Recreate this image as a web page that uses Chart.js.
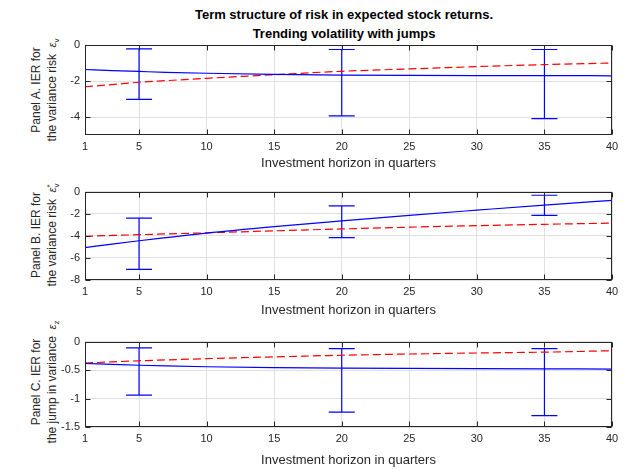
<!DOCTYPE html>
<html><head><meta charset="utf-8">
<script src="https://cdn.jsdelivr.net/npm/chart.js@4.4.1/dist/chart.umd.min.js"></script>
<style>
body{margin:0;background:#fff;width:634px;height:476px;overflow:hidden;position:relative;font-family:"Liberation Sans",Arial,sans-serif;color:#262626}
canvas{position:absolute;left:0}
.title{position:absolute;left:80px;width:528px;top:6px;text-align:center;font-weight:bold;font-size:13px;line-height:18.5px;color:#000}
.ylab{position:absolute;width:240px;height:32px;font-size:12px;line-height:16px;text-align:center;transform:rotate(-90deg);white-space:nowrap;color:#262626}
.eps{font-size:11px;font-style:italic}
.ss{display:inline-block;vertical-align:middle;line-height:7px;font-size:8px;text-align:left}
</style>
</head><body>
<div class="title">Term structure of risk in expected stock returns.<br>Trending volatility with jumps</div>
<div class="ylab" style="left:-76px;top:74px">Panel A. IER for<br>the variance risk &nbsp;<span class="eps">ε</span><sub style="font-size:8px">v</sub></div>
<div class="ylab" style="left:-76px;top:219px">Panel B. IER for<br>the variance risk &nbsp;<span class="eps">ε</span><span class="ss">*<br>v</span></div>
<div class="ylab" style="left:-76px;top:366px">Panel C. IER for<br>the jump in variance &nbsp;<span class="eps">ε</span><sub style="font-size:8px">z</sub></div>
<canvas id="cA" width="634" height="180" style="top:0px"></canvas>
<canvas id="cB" width="634" height="150" style="top:180px"></canvas>
<canvas id="cC" width="634" height="146" style="top:330px"></canvas>
<script>
// ---- data ----
const horizons = [1, 3, 5, 7, 10, 15, 20, 25, 30, 35, 40];
const xTicks = [1, 5, 10, 15, 20, 25, 30, 35, 40];
const errX = [5, 20, 35];

const modelA = [-1.36, -1.42, -1.47, -1.52, -1.57, -1.63, -1.67, -1.69, -1.70, -1.70, -1.71];
const dataA  = [-2.32, -2.20, -2.07, -1.98, -1.85, -1.65, -1.46, -1.33, -1.20, -1.09, -1.00];
const errLowA  = [-3.02, -3.94, -4.09];
const errHighA = [-0.21, -0.25, -0.25];
const yTicksA = [-4, -2, 0];

const modelB = [-5.07, -4.75, -4.45, -4.17, -3.75, -3.17, -2.65, -2.15, -1.68, -1.22, -0.80];
const dataB  = [-4.05, -3.97, -3.90, -3.83, -3.73, -3.55, -3.38, -3.22, -3.08, -2.96, -2.85];
const errLowB  = [-7.04, -4.16, -2.16];
const errHighB = [-2.40, -1.29, -0.33];
const yTicksB = [-8, -6, -4, -2, 0];

const modelC = [-0.385, -0.400, -0.415, -0.428, -0.442, -0.457, -0.466, -0.472, -0.476, -0.479, -0.482];
const dataC  = [-0.376, -0.356, -0.337, -0.322, -0.300, -0.268, -0.240, -0.218, -0.200, -0.185, -0.160];
const errLowC  = [-0.94, -1.24, -1.30];
const errHighC = [-0.11, -0.124, -0.124];
const yTicksC = [-1.5, -1, -0.5, 0];

const xTitle = 'Investment horizon in quarters';

// ---- drawing ----
const framePlugin = {
  id: 'frame',
  beforeDatasetsDraw(chart, args, opts) {
    const {ctx, scales: {x, y}} = chart;
    const a = chart.chartArea;
    ctx.save();
    ctx.beginPath(); ctx.rect(a.left, a.top - 1, a.right - a.left, a.bottom - a.top + 2); ctx.clip();
    ctx.strokeStyle = '#0000ff'; ctx.lineWidth = 1.2;
    opts.errX.forEach((xv, i) => {
      const px = x.getPixelForValue(xv);
      const p1 = y.getPixelForValue(opts.low[i]);
      const p2 = y.getPixelForValue(opts.high[i]);
      ctx.beginPath();
      ctx.moveTo(px, p1); ctx.lineTo(px, p2);
      ctx.moveTo(px - 13, p1); ctx.lineTo(px + 13, p1);
      ctx.moveTo(px - 13, p2); ctx.lineTo(px + 13, p2);
      ctx.stroke();
    });
    ctx.restore();
  },
  afterDraw(chart) {
    const {ctx, scales: {x, y}} = chart;
    const a = chart.chartArea;
    const L = Math.round(a.left) + 0.5, R = Math.round(a.right) - 0.5;
    const T = Math.round(a.top) + 0.5, B = Math.round(a.bottom) - 0.5;
    ctx.save();
    ctx.strokeStyle = '#262626'; ctx.lineWidth = 1;
    ctx.beginPath();
    x.ticks.forEach(t => {
      const px = Math.round(x.getPixelForValue(t.value)) + 0.5;
      ctx.moveTo(px, B); ctx.lineTo(px, B - 5);
      ctx.moveTo(px, T); ctx.lineTo(px, T + 5);
    });
    y.ticks.forEach(t => {
      const py = Math.round(y.getPixelForValue(t.value)) + 0.5;
      ctx.moveTo(L, py); ctx.lineTo(L + 5, py);
      ctx.moveTo(R, py); ctx.lineTo(R - 5, py);
    });
    ctx.stroke();
    ctx.strokeRect(L, T, R - L, B - T);
    ctx.restore();
  }
};

function makePanel(id, cfg) {
  const ctx = document.getElementById(id);
  new Chart(ctx, {
    type: 'line',
    data: {
      datasets: [
        {data: horizons.map((h, i) => ({x: h, y: cfg.model[i]})), borderColor: '#0000ff', borderWidth: 1.2,
         pointRadius: 0, cubicInterpolationMode: 'monotone', fill: false},
        {data: horizons.map((h, i) => ({x: h, y: cfg.data[i]})), borderColor: '#ff0000', borderWidth: 1.2,
         borderDash: [8, 4], pointRadius: 0, cubicInterpolationMode: 'monotone', fill: false}
      ]
    },
    options: {
      responsive: false, animation: false, devicePixelRatio: 1,
      layout: {padding: {top: cfg.padTop, left: 0, right: 22, bottom: 0}},
      plugins: {legend: {display: false}, tooltip: {enabled: false},
        frame: {errX: errX, low: cfg.low, high: cfg.high}},
      scales: {
        x: {
          type: 'linear', min: 1, max: 40,
          afterBuildTicks: s => { s.ticks = xTicks.map(v => ({value: v})); },
          afterFit: s => { s.height = cfg.xh; },
          grid: {color: '#e0e0e0', drawTicks: false, lineWidth: 1},
          border: {display: false},
          ticks: {color: '#262626', font: {family: 'Liberation Sans', size: 11}, padding: 5, maxRotation: 0,
                  callback: v => String(v)},
          title: {display: true, text: xTitle, color: '#262626', font: {family: 'Liberation Sans', size: 13},
                  padding: {top: 0, bottom: cfg.titlePad}}
        },
        y: {
          type: 'linear', min: cfg.ymin, max: 0,
          afterBuildTicks: s => { s.ticks = cfg.yTicks.map(v => ({value: v})); },
          afterFit: s => { s.width = 85; },
          grid: {color: '#e0e0e0', drawTicks: false, lineWidth: 1},
          border: {display: false},
          ticks: {color: '#262626', font: {family: 'Liberation Sans', size: 11}, padding: 5,
                  callback: v => String(v)}
        }
      }
    },
    plugins: [framePlugin]
  });
}

makePanel('cA', {model: modelA, data: dataA, low: errLowA, high: errHighA, yTicks: yTicksA, ymin: -5,
                 padTop: 45, xh: 45, titlePad: 9});
makePanel('cB', {model: modelB, data: dataB, low: errLowB, high: errHighB, yTicks: yTicksB, ymin: -8,
                 padTop: 10, xh: 50, titlePad: 12});
makePanel('cC', {model: modelC, data: dataC, low: errLowC, high: errHighC, yTicks: yTicksC, ymin: -1.5,
                 padTop: 7, xh: 49, titlePad: 8});
</script>
</body></html>
